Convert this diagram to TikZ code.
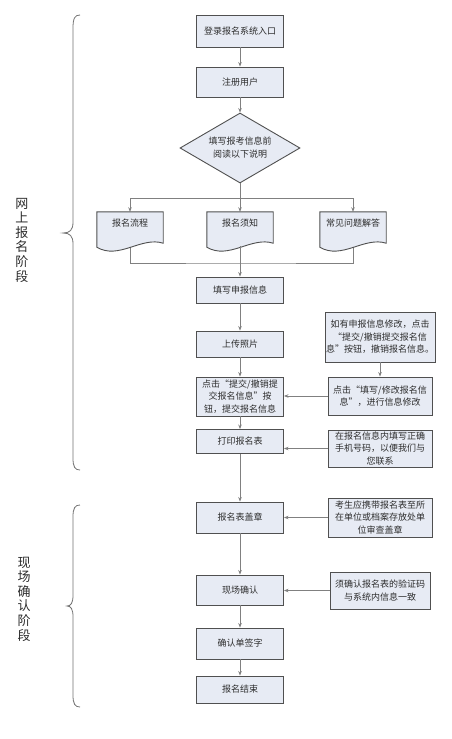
\documentclass[tikz,border=0pt]{standalone}
\usepackage{fontspec}
\newfontfamily\cjk{Noto Sans CJK SC}
\usetikzlibrary{shapes.geometric,arrows.meta}
\definecolor{boxfill}{RGB}{231,235,244}
\definecolor{boxline}{RGB}{80,80,80}
\definecolor{conn}{RGB}{128,128,128}
\definecolor{txt}{RGB}{45,45,45}
\tikzset{
  flowbox/.style={draw=boxline, fill=boxfill, line width=0.9pt, minimum width=87pt, inner sep=1pt,
    align=center, text=txt, font=\cjk\fontsize{9}{12.5}\selectfont},
  notebox/.style={draw=boxline, fill=boxfill, line width=0.9pt, minimum width=104pt, inner sep=1pt,
    align=center, text=txt, font=\cjk\fontsize{9}{12.5}\selectfont},
  decision/.style={diamond, aspect=1.7, draw=boxline, fill=boxfill, line width=0.9pt, inner sep=0pt,
    minimum width=120pt, minimum height=70pt, align=center, text=txt, font=\cjk\fontsize{9}{13}\selectfont},
  docnode/.style={minimum width=66pt, minimum height=34pt, inner sep=0pt, text=txt,
    font=\cjk\fontsize{9}{12}\selectfont},
  docshape/.style={draw=boxline, fill=boxfill, line width=0.9pt},
  link/.style={draw=conn, line width=0.8pt},
  arr/.style={link, -{Stealth[length=4.5pt,width=3.5pt]}},
  phase/.style={align=center, text=txt, font=\cjk\fontsize{13}{14.6}\selectfont},
  bracestyle/.style={draw=conn!90!black, line width=0.8pt}
}
\begin{document}
\begin{tikzpicture}[x=1pt,y=-1pt]
\useasboundingbox (0,0) rectangle (452,739);
\fill[white] (0,0) rectangle (452,739);

% braces and phase labels
\draw[bracestyle] (80,15) .. controls (75,15) and (73,18) .. (73,28) -- (73,222)
  .. controls (73,230) and (70,233) .. (63,233) .. controls (70,233) and (73,236) .. (73,244)
  -- (73,458) .. controls (73,467) and (75,470) .. (80,470);
\draw[bracestyle] (80,505) .. controls (75,505) and (73,508) .. (73,517) -- (73,595)
  .. controls (73,603) and (71,606) .. (67,606) .. controls (71,606) and (73,609) .. (73,617)
  -- (73,695) .. controls (73,704) and (75,707) .. (80,707);
\node[phase] (p1) at (22,240) {网\\上\\报\\名\\阶\\段};
\node[phase] (p2) at (24,599) {现\\场\\确\\认\\阶\\段};

% main column
\node[flowbox, minimum height=32pt] (b1) at (240,31) {登录报名系统入口};
\node[flowbox, minimum height=30pt] (b2) at (240,82) {注册用户};
\node[decision] (dia) at (240,148) {填写报考信息前\\阅读以下说明};

% documents
\coordinate (sp) at (240,198);
\coordinate (jn) at (240,263);
\node[docnode] (d1) at (130,229) {};
\node[docnode] (d2) at (240,229) {};
\node[docnode] (d3) at (353,229) {};
\draw[arr] (dia.south) -- (d2.north);
\draw[arr] (sp) -| (d1.north);
\draw[arr] (sp) -| (d3.north);
\draw[link] (d1.south) |- (jn) -| (d3.south);
\foreach \d in {d1,d2,d3}{
  \path[docshape] (\d.north west) -- (\d.north east) -- ([yshift=3pt]\d.south east)
    .. controls ([xshift=-22pt,yshift=10pt]\d.south east) and ([xshift=22pt,yshift=-14pt]\d.south west) ..
    ([yshift=-1pt]\d.south west) -- cycle;
}
\node[docnode] (t1) at ([yshift=6pt]d1) {报名流程};
\node[docnode] (t2) at ([yshift=6pt]d2) {报名须知};
\node[docnode] (t3) at ([yshift=6pt]d3) {常见问题解答};

\node[flowbox, minimum height=26pt] (b3) at (240,290) {填写申报信息};
\node[flowbox, minimum height=26pt] (b4) at (240,344) {上传照片};
\node[flowbox, minimum height=39pt] (b5) at (240,396.5) {点击“提交/撤销提\\交报名信息”按\\钮，提交报名信息};
\node[flowbox, minimum height=24pt] (b6) at (240,441.5) {打印报名表};
\node[flowbox, minimum height=31pt] (b7) at (240,517.5) {报名表盖章};
\node[flowbox, minimum height=30pt] (b8) at (240,590) {现场确认};
\node[flowbox, minimum height=31pt] (b9) at (240,643.5) {确认单签字};
\node[flowbox, minimum height=27pt] (b10) at (240,689.5) {报名结束};

% notes
\node[notebox, minimum height=50pt] (n1) at (380,337) {如有申报信息修改，点击\\“提交/撤销提交报名信\\息”按钮，撤销报名信息。};
\node[notebox, minimum height=38pt] (n2) at (380,396) {点击“填写/修改报名信\\息”，进行信息修改};
\node[notebox, minimum height=37pt] (n3) at (380,448.5) {在报名信息内填写正确\\手机号码，以便我们与\\您联系};
\node[notebox, minimum height=39pt] (n4) at (380,517.5) {考生应携带报名表至所\\在单位或档案存放处单\\位审查盖章};
\node[notebox, minimum width=100pt, minimum height=37pt] (n5) at (380,590.5) {须确认报名表的验证码\\与系统内信息一致};

% connectors
\draw[arr] (b1) -- (b2);
\draw[arr] (b2) -- (dia);
\draw[arr] (d2.south) -- (b3);
\draw[arr] (b3) -- (b4);
\draw[arr] (b4) -- (b5);
\draw[arr] (b5) -- (b6);
\draw[arr] (b6) -- (b7);
\draw[arr] (b7) -- (b8);
\draw[arr] (b8) -- (b9);
\draw[arr] (b9) -- (b10);
\draw[arr] (n1) -- (n2);
\draw[arr] (n2.west) -- (n2.west -| b5.east);
\draw[arr] (n3.west) -- (n3.west -| b6.east);
\draw[arr] (n4.west) -- (n4.west -| b7.east);
\draw[arr] (n5.west) -- (n5.west -| b8.east);
\end{tikzpicture}
\end{document}
